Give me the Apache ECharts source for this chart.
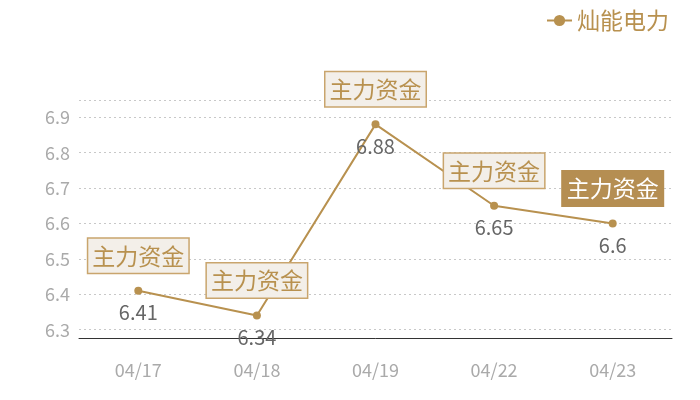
<!DOCTYPE html>
<html>
<head>
<meta charset="utf-8">
<script src="https://cdn.jsdelivr.net/npm/echarts@6/dist/echarts.min.js"></script>
<style>html,body{margin:0;padding:0;background:#fff}#c{width:700px;height:400px}</style>
</head>
<body>
<div id="c"></div>
<script>
const categories = ['04/17', '04/18', '04/19', '04/22', '04/23'];
const seriesName = '灿能电力';
const values = [6.41, 6.34, 6.88, 6.65, 6.6];
const markText = '主力资金';
const highlightIndex = 4;

const gold = '#b8914f';
const font = "'Noto Sans CJK SC', 'Noto Sans', sans-serif";

const chart = echarts.init(document.getElementById('c'));
const markData = values.map((v, i) => {
  const hi = i === highlightIndex;
  return {
    coord: [i, v],
    label: hi ? { backgroundColor: '#b58e52', color: '#fff', borderColor: '#b58e52' } : {}
  };
});
chart.setOption({
  textStyle: { fontFamily: font },
  animation: false,
  legend: {
    right: 26, top: 4,
    itemWidth: 25, itemHeight: 14,
    itemGap: 10,
    textStyle: { color: gold, fontSize: 23, fontFamily: font },
    data: [seriesName]
  },
  grid: { left: 79, right: 28, top: 100, bottom: 62 },
  xAxis: {
    type: 'category',
    data: categories,
    axisLine: { lineStyle: { color: '#333', width: 1 } },
    axisTick: { show: false },
    axisLabel: { color: '#aaa', fontSize: 18, margin: 23, fontFamily: font }
  },
  yAxis: {
    type: 'value',
    min: Math.min(...values) * 0.99,
    max: Math.max(...values) * 1.01,
    axisLine: { show: false },
    axisTick: { show: false },
    axisLabel: { color: '#aaa', fontSize: 18, margin: 9, showMinLabel: false, showMaxLabel: false, fontFamily: font },
    splitLine: { lineStyle: { color: '#c8c8c8', type: [2, 3] } }
  },
  series: [{
    name: seriesName,
    type: 'line',
    data: values,
    symbol: 'circle',
    symbolSize: 8,
    itemStyle: { color: gold },
    lineStyle: { color: gold, width: 2 },
    label: { show: true, position: 'bottom', distance: 8, color: '#666', fontSize: 20, fontFamily: font },
    markPoint: {
      symbol: 'circle',
      symbolSize: 0.01,
      itemStyle: { color: 'rgba(0,0,0,0)' },
      label: {
        show: true,
        formatter: markText,
        position: 'inside',
        offset: [0, -35],
        fontSize: 23,
        lineHeight: 26,
        fontFamily: font,
        color: gold,
        backgroundColor: '#f3efe9',
        borderColor: '#c9a56d',
        borderWidth: 1.5,
        padding: [4, 4]
      },
      data: markData
    }
  }]
});
</script>
</body>
</html>
